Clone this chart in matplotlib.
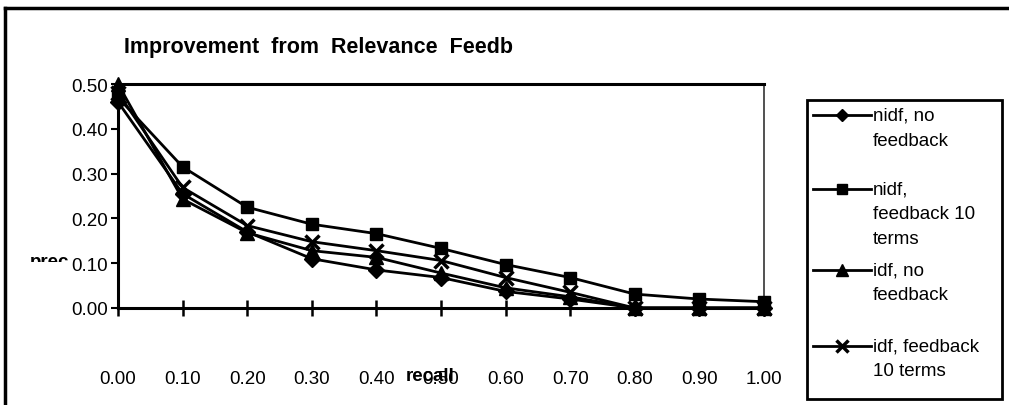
import numpy as np
import matplotlib.pyplot as plt
from matplotlib.lines import Line2D
from matplotlib.patches import Rectangle
from matplotlib.transforms import Bbox

plt.rcParams['font.family'] = ['Liberation Sans', 'DejaVu Sans']

# ------------------------------------------------------------
# data
# ------------------------------------------------------------
recall = [0.0, 0.1, 0.2, 0.3, 0.4, 0.5, 0.6, 0.7, 0.8, 0.9, 1.0]
nidf_no_fb = [0.46, 0.255, 0.170, 0.110, 0.085, 0.068, 0.037, 0.020, 0.0, 0.0, 0.0]
nidf_fb10 = [0.47, 0.315, 0.225, 0.187, 0.166, 0.133, 0.097, 0.068, 0.031, 0.020, 0.014]
idf_no_fb = [0.50, 0.243, 0.168, 0.128, 0.113, 0.078, 0.045, 0.025, 0.0, 0.0, 0.0]
idf_fb10 = [0.48, 0.269, 0.184, 0.148, 0.128, 0.106, 0.068, 0.035, 0.0, 0.0, 0.0]

series_labels = ["nidf, no\nfeedback", "nidf,\nfeedback 10\nterms",
                 "idf, no\nfeedback", "idf, feedback\n10 terms"]
x_ticks = [0.0, 0.1, 0.2, 0.3, 0.4, 0.5, 0.6, 0.7, 0.8, 0.9, 1.0]
y_ticks = [0.0, 0.1, 0.2, 0.3, 0.4, 0.5]

W, H = 1009, 406
fig = plt.figure(figsize=(W / 100, H / 100), dpi=100)


def fx(px):
    return px / W


def fy(py):
    return 1 - py / H


ax = fig.add_axes([fx(118), fy(309), fx(764) - fx(118), fy(85) - fy(309)])

styles = [
    (nidf_no_fb, 'D', 8),
    (nidf_fb10, 's', 8.5),
    (idf_no_fb, '^', 10),
    (idf_fb10, 'x', 10),
]
for vals, mk, ms in styles:
    ax.plot(recall, vals, color='black', lw=2, marker=mk, ms=ms,
            mew=2.5 if mk == 'x' else 1, clip_on=False, zorder=3)

ax.set_xlim(0, 1.0)
ax.set_ylim(0, 0.5)
ax.set_xticks(x_ticks)
ax.set_yticks(y_ticks)
ax.set_xticklabels([f"{v:.2f}" for v in x_ticks])
ax.set_yticklabels([f"{v:.2f}" for v in y_ticks])

for s in ['left', 'bottom', 'top']:
    ax.spines[s].set_linewidth(2.2)
ax.spines['right'].set_linewidth(1.2)
ax.spines['right'].set_color('#333333')

ax.tick_params(axis='y', direction='out', length=5, width=1.5, labelsize=13.5, pad=2)
ax.tick_params(axis='x', direction='inout', length=11, width=1.8, labelsize=13.5, pad=39)

# axis titles, placed where the original shows them
fig.text(fx(430), fy(377), "recall", fontsize=13.5, fontweight='bold',
         ha='center', va='center')
yl = fig.text(fx(30), fy(267), "prec", fontsize=13.5, fontweight='bold',
              ha='left', va='baseline')
yl.set_clip_box(Bbox.from_extents(0, H - 263, 200, H - 240))
yl.set_clip_on(True)

fig.text(fx(318), fy(47), "Improvement  from  Relevance  Feedb", fontsize=15.5,
         fontweight='bold', ha='center', va='center')

# outer chart frame
fig.add_artist(Line2D([fx(5), fx(5)], [fy(9), 0], color='black', lw=2.5))
fig.add_artist(Line2D([fx(5), 1], [fy(9), fy(9)], color='black', lw=2.5))

# legend box drawn by hand (handle sits on the first text line)
fig.add_artist(Rectangle((fx(807), fy(400)), fx(1002) - fx(807), fy(101) - fy(400),
                         transform=fig.transFigure, fill=False, ec='black', lw=2))
leg_y = [116, 190, 271, 347]
for (vals, mk, ms), lab, y in zip(styles, series_labels, leg_y):
    fig.add_artist(Line2D([fx(813), fx(871)], [fy(y), fy(y)], color='black', lw=2))
    fig.add_artist(Line2D([fx(842)], [fy(y)], color='black', marker=mk,
                          ms=ms * 0.8, mew=2.5 if mk == 'x' else 1))
    for i, line in enumerate(lab.split("\n")):
        fig.text(fx(873), fy(y + 25 * i), line, fontsize=13.5, ha='left', va='center')

fig.savefig("out.png", dpi=100)
